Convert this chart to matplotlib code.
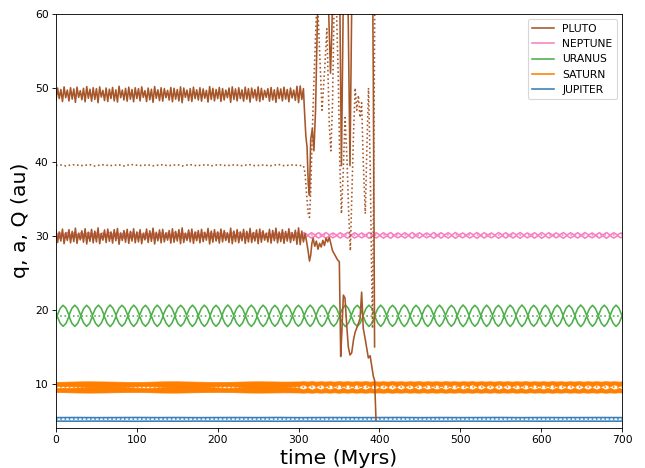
import numpy as np
import matplotlib
matplotlib.use("Agg")
import matplotlib.pyplot as plt
from matplotlib.lines import Line2D

# ---------------- data ----------------
planet_names = ["PLUTO", "NEPTUNE", "URANUS", "SATURN", "JUPITER"]

# Jupiter: semi-major axis and eccentricity samples (every 25 Myr)
jupiter_a = 5.20
jupiter_e_step = 25.0
jupiter_e = [0.046, 0.048, 0.045, 0.047, 0.049, 0.046, 0.048, 0.045, 0.047, 0.048,
             0.046, 0.049, 0.045, 0.047, 0.048, 0.046, 0.047, 0.049, 0.045, 0.048,
             0.046, 0.047, 0.049, 0.045, 0.048, 0.046, 0.047, 0.048, 0.046]

# Saturn: a, and the envelope (min / max) of its fast-oscillating eccentricity
saturn_a = 9.58
saturn_early_step = 10.0
saturn_e_hi_early = [0.072, 0.074, 0.077, 0.079, 0.080, 0.079, 0.078, 0.076, 0.074, 0.072,
                     0.071, 0.073, 0.076, 0.079, 0.080, 0.080, 0.078, 0.076, 0.074, 0.072,
                     0.071, 0.072, 0.074, 0.077, 0.079, 0.080, 0.079, 0.078, 0.076, 0.077,
                     0.078]
saturn_e_lo_early = [0.014, 0.012, 0.010, 0.007, 0.003, 0.000, 0.000, 0.000, 0.002, 0.006,
                     0.010, 0.012, 0.010, 0.006, 0.002, 0.000, 0.000, 0.000, 0.000, 0.004,
                     0.009, 0.012, 0.009, 0.004, 0.000, 0.000, 0.000, 0.000, 0.002, 0.006,
                     0.010]
saturn_late_start = 300.0
saturn_late_step = 5.5
saturn_e_hi_late = [0.077, 0.081, 0.077, 0.082, 0.076, 0.081, 0.077, 0.081, 0.076, 0.082,
                    0.077, 0.081, 0.076, 0.081, 0.077, 0.082, 0.076, 0.081, 0.077, 0.081,
                    0.076, 0.082, 0.077, 0.081, 0.076, 0.081, 0.077, 0.082, 0.076, 0.081,
                    0.077, 0.081, 0.076, 0.082, 0.077, 0.081, 0.076, 0.081, 0.077, 0.082,
                    0.076, 0.081, 0.077, 0.081, 0.076, 0.082, 0.077, 0.081, 0.076, 0.081,
                    0.077, 0.082, 0.076, 0.081, 0.077, 0.081, 0.076, 0.082, 0.077, 0.081,
                    0.076, 0.081, 0.077, 0.082, 0.076, 0.081, 0.077, 0.081, 0.076, 0.082,
                    0.077, 0.081, 0.076, 0.081]
saturn_e_lo_late = [0.010, 0.035, 0.009, 0.037, 0.011, 0.036, 0.008, 0.035, 0.010, 0.037,
                    0.009, 0.036, 0.011, 0.035, 0.010, 0.037, 0.008, 0.036, 0.010, 0.035,
                    0.011, 0.037, 0.009, 0.036, 0.010, 0.035, 0.008, 0.037, 0.010, 0.036,
                    0.011, 0.035, 0.009, 0.037, 0.010, 0.036, 0.008, 0.035, 0.011, 0.037,
                    0.010, 0.036, 0.009, 0.035, 0.010, 0.037, 0.011, 0.036, 0.008, 0.035,
                    0.010, 0.037, 0.009, 0.036, 0.011, 0.035, 0.010, 0.037, 0.008, 0.036,
                    0.010, 0.035, 0.011, 0.037, 0.009, 0.036, 0.010, 0.035, 0.008, 0.037,
                    0.010, 0.036, 0.011, 0.035]

# Uranus: a, and eccentricity sampled four times per secular cycle
uranus_a = 19.20
uranus_start = -2.14
uranus_step = 3.6375
uranus_e = [0.052,
    0.003, 0.052, 0.074, 0.053, 0.004, 0.053, 0.075, 0.052, 0.002, 0.051, 0.074, 0.053,
    0.004, 0.052, 0.075, 0.051, 0.003, 0.053, 0.076, 0.052, 0.005, 0.052, 0.074, 0.053,
    0.003, 0.051, 0.075, 0.052, 0.004, 0.053, 0.074, 0.051, 0.002, 0.052, 0.075, 0.053,
    0.004, 0.051, 0.076, 0.052, 0.003, 0.053, 0.074, 0.052, 0.005, 0.052, 0.075, 0.051,
    0.002, 0.051, 0.075, 0.053, 0.004, 0.053, 0.074, 0.052, 0.003, 0.052, 0.076, 0.053,
    0.004, 0.051, 0.074, 0.051, 0.002, 0.053, 0.075, 0.052, 0.005, 0.052, 0.075, 0.053,
    0.003, 0.051, 0.074, 0.052, 0.004, 0.053, 0.076, 0.051, 0.002, 0.052, 0.074, 0.053,
    0.004, 0.051, 0.075, 0.052, 0.003, 0.053, 0.075, 0.053, 0.005, 0.052, 0.074, 0.051,
    0.003, 0.051, 0.076, 0.052, 0.004, 0.053, 0.074, 0.053, 0.002, 0.052, 0.075, 0.052,
    0.004, 0.051, 0.075, 0.051, 0.003, 0.053, 0.074, 0.053, 0.005, 0.052, 0.076, 0.052,
    0.002, 0.051, 0.074, 0.053, 0.004, 0.053, 0.075, 0.052, 0.003, 0.052, 0.075, 0.051,
    0.004, 0.051, 0.074, 0.053, 0.002, 0.053, 0.076, 0.052, 0.005, 0.052, 0.074, 0.053,
    0.003, 0.051, 0.075, 0.052, 0.004, 0.053, 0.074, 0.051, 0.002, 0.052, 0.075, 0.053,
    0.004, 0.051, 0.076, 0.052, 0.003, 0.053, 0.074, 0.052, 0.005, 0.052, 0.075, 0.051,
    0.002, 0.051, 0.075, 0.053, 0.004, 0.053, 0.074, 0.052, 0.003, 0.052, 0.076, 0.053,
    0.004, 0.051, 0.074, 0.051, 0.002, 0.053, 0.075, 0.052, 0.005, 0.052, 0.075, 0.053,
    0.003, 0.051, 0.074, 0.052]

# Neptune: a, and eccentricity sampled twice per secular cycle
neptune_a = 30.07
neptune_step = 4.45
neptune_e = [0.002, 0.012, 0.001, 0.013, 0.002, 0.011, 0.001, 0.012, 0.002, 0.013,
             0.001, 0.012, 0.002, 0.011, 0.001, 0.013, 0.002, 0.012, 0.001, 0.012,
             0.002, 0.013, 0.001, 0.011, 0.002, 0.012, 0.001, 0.013, 0.002, 0.012,
             0.001, 0.011, 0.002, 0.013, 0.001, 0.012, 0.002, 0.012, 0.001, 0.013,
             0.002, 0.011, 0.001, 0.012, 0.002, 0.013, 0.001, 0.012, 0.002, 0.011,
             0.001, 0.013, 0.002, 0.012, 0.001, 0.012, 0.002, 0.013, 0.001, 0.011,
             0.002, 0.012, 0.001, 0.013, 0.002, 0.012, 0.001, 0.011, 0.002, 0.013,
             0.001, 0.012, 0.002, 0.012, 0.001, 0.013, 0.002, 0.011, 0.001, 0.012,
             0.002, 0.013, 0.001, 0.012, 0.002, 0.011, 0.001, 0.013, 0.002, 0.012,
             0.001, 0.012, 0.002, 0.013, 0.001, 0.011, 0.002, 0.012, 0.001, 0.013,
             0.002, 0.012, 0.001, 0.011, 0.002, 0.013, 0.001, 0.012, 0.002, 0.012,
             0.001, 0.013, 0.002, 0.011, 0.001, 0.012, 0.002, 0.013, 0.001, 0.012,
             0.002, 0.011, 0.001, 0.013, 0.002, 0.012, 0.001, 0.012, 0.002, 0.013,
             0.001, 0.011, 0.002, 0.012, 0.001, 0.013, 0.002, 0.012, 0.001, 0.011,
             0.002, 0.013, 0.001, 0.012, 0.002, 0.012, 0.001, 0.013, 0.002, 0.011,
             0.001, 0.012, 0.002, 0.013, 0.001, 0.012, 0.002, 0.011, 0.001, 0.013,
             0.002]

# Pluto, stable phase (0-306 Myr): eccentricity every 2 Myr, a every 6 Myr
pluto_a_mean = 39.55
pluto_e_step = 2.0
pluto_e_early = [
    0.222, 0.264, 0.228, 0.259, 0.218, 0.268, 0.231, 0.257, 0.220, 0.265,
    0.226, 0.261, 0.215, 0.267, 0.232, 0.255, 0.224, 0.263, 0.217, 0.269,
    0.229, 0.260, 0.219, 0.265, 0.225, 0.262, 0.214, 0.268, 0.233, 0.256,
    0.221, 0.264, 0.218, 0.260, 0.228, 0.266, 0.220, 0.258, 0.216, 0.270,
    0.231, 0.257, 0.223, 0.263, 0.219, 0.267, 0.226, 0.259, 0.217, 0.265,
    0.228, 0.262, 0.220, 0.268, 0.232, 0.255, 0.218, 0.264, 0.224, 0.260,
    0.215, 0.269, 0.229, 0.258, 0.221, 0.265, 0.219, 0.262, 0.231, 0.256,
    0.223, 0.266, 0.217, 0.263, 0.226, 0.259, 0.220, 0.268, 0.214, 0.264,
    0.232, 0.257, 0.221, 0.262, 0.218, 0.267, 0.228, 0.258, 0.223, 0.265,
    0.219, 0.261, 0.229, 0.256, 0.216, 0.269, 0.225, 0.263, 0.220, 0.259,
    0.228, 0.266, 0.218, 0.262, 0.223, 0.257, 0.231, 0.264, 0.215, 0.268,
    0.225, 0.261, 0.220, 0.265, 0.228, 0.258, 0.219, 0.267, 0.226, 0.262,
    0.216, 0.264, 0.230, 0.259, 0.221, 0.268, 0.218, 0.263, 0.224, 0.256,
    0.232, 0.262, 0.219, 0.266, 0.223, 0.258, 0.215, 0.265, 0.228, 0.261,
    0.220, 0.267, 0.226, 0.259, 0.217, 0.264, 0.230, 0.257, 0.222, 0.270,
    0.214, 0.271, 0.225, 0.262]
pluto_a_step = 6.0
pluto_a_early = [
    39.52, 39.60, 39.47, 39.58, 39.64, 39.50, 39.55, 39.62, 39.45, 39.57,
    39.63, 39.49, 39.56, 39.61, 39.46, 39.59, 39.65, 39.51, 39.54, 39.60,
    39.48, 39.57, 39.62, 39.50, 39.55, 39.63, 39.46, 39.58, 39.61, 39.49,
    39.56, 39.64, 39.47, 39.59, 39.60, 39.51, 39.55, 39.62, 39.48, 39.57,
    39.63, 39.50, 39.54, 39.61, 39.46, 39.58, 39.64, 39.49, 39.56, 39.60,
    39.52, 39.50]

# Pluto, unstable phase until ejection
pluto_t_q_late = [308, 310, 312, 313.5, 315, 316.5, 318, 320, 322,
                  324, 326, 328, 330, 332, 334, 336, 338, 340, 342,
                  344, 346, 348, 350.4, 352.1, 353.5, 355.4, 357.4, 359.5, 361.5,
                  363.6, 365.7, 368, 370, 371.8, 374, 376, 378, 380, 382.2,
                  384, 386.3, 388.5, 390.4, 392.5, 394, 395.8]
pluto_q_late = [30.3, 29.2, 27.8, 26.6, 27.4, 29.0, 29.7, 28.6, 29.3,
                28.2, 29.0, 28.5, 29.4, 28.7, 29.7, 29.2, 29.8, 28.9, 28.0,
                27.6, 27.2, 26.8, 26.5, 13.7, 17.0, 22.0, 21.6, 18.0, 15.0,
                13.9, 14.2, 16.0, 17.0, 17.5, 18.2, 18.8, 22.4, 17.5, 16.2,
                15.0, 13.5, 13.8, 12.5, 11.0, 10.5, 5.1]
pluto_t_a_late = [308, 310, 312, 313.5, 315, 317, 319, 321, 323,
                  326, 329, 332, 335, 338, 340, 342, 344, 346, 349,
                  351, 353, 355, 357.5, 360, 362, 364, 366, 368, 370,
                  372, 374, 376, 378, 380, 382.5, 384.5, 386.5, 388.5, 390.5,
                  391.5, 393, 394.5]
pluto_a_late = [38.5, 35.5, 33.0, 32.5, 36.0, 44.0, 51.0, 57.0, 63.0,
                55.0, 47.0, 52.0, 58.0, 45.0, 41.5, 48.0, 62.0, 64.0, 52.0,
                40.0, 33.0, 38.0, 46.0, 40.0, 33.0, 28.0, 36.0, 44.0, 50.0,
                47.0, 49.0, 46.0, 48.0, 40.0, 33.0, 42.0, 50.0, 40.0, 24.0,
                17.5, 40.0, 66.0]
pluto_t_Q_late = [307.5, 309, 310.5, 312, 313.5, 315, 317, 319, 321,
                  323, 325, 328, 331, 334, 337, 339.5, 341, 343, 346,
                  349, 351, 353, 355.5, 358, 361, 363.6, 366, 368, 372,
                  376, 380, 384, 388, 391, 392.5, 394]
pluto_Q_late = [46.5, 43.5, 42.0, 37.0, 35.5, 43.0, 44.5, 41.5, 47.0,
                58.0, 68.0, 72.0, 64.0, 70.0, 61.0, 52.0, 57.0, 66.0, 74.0,
                66.0, 62.0, 39.5, 64.0, 70.0, 63.0, 39.5, 64.0, 72.0, 75.0,
                70.0, 78.0, 72.0, 69.0, 74.0, 50.0, 15.0]

# ---------------- styles ----------------
colors = {"PLUTO": "#a65628", "NEPTUNE": "#f781bf", "URANUS": "#4daf4a",
          "SATURN": "#ff7f00", "JUPITER": "#377eb8"}
LW = 1.5
T_END = 700

DPI = 77
fig = plt.figure(figsize=(645 / DPI, 468 / DPI), dpi=DPI)
ax = fig.add_axes([56 / 645, 1 - 427.5 / 468, (622 - 56) / 645, (427.5 - 14) / 468])

# Jupiter
c = colors["JUPITER"]
tj = np.arange(len(jupiter_e)) * jupiter_e_step
ej = np.array(jupiter_e)
ax.plot(tj, jupiter_a * (1 - ej), color=c, lw=LW)
ax.plot(tj, jupiter_a * (1 + ej), color=c, lw=LW)
ax.plot([0, T_END], [jupiter_a, jupiter_a], color=c, lw=LW, ls=":")

# Saturn (fast oscillation fills a band)
c = colors["SATURN"]
ts1 = np.arange(len(saturn_e_hi_early)) * saturn_early_step
ts2 = saturn_late_start + np.arange(len(saturn_e_hi_late)) * saturn_late_step
for ts, ehi, elo in [(ts1, saturn_e_hi_early, saturn_e_lo_early),
                     (ts2, saturn_e_hi_late, saturn_e_lo_late)]:
    ehi = np.array(ehi)
    elo = np.array(elo)
    ax.fill_between(ts, saturn_a * (1 - ehi), saturn_a * (1 - elo), color=c, lw=0.6)
    ax.fill_between(ts, saturn_a * (1 + elo), saturn_a * (1 + ehi), color=c, lw=0.6)
ax.plot([0, T_END], [saturn_a, saturn_a], color=c, lw=LW, ls=":")

# Uranus
c = colors["URANUS"]
tu = uranus_start + np.arange(len(uranus_e)) * uranus_step
eu = np.array(uranus_e)
ax.plot(tu, uranus_a * (1 - eu), color=c, lw=LW)
ax.plot(tu, uranus_a * (1 + eu), color=c, lw=LW)
ax.plot([0, T_END], [uranus_a, uranus_a], color=c, lw=LW, ls=":")

# Neptune
c = colors["NEPTUNE"]
tn = np.arange(len(neptune_e)) * neptune_step
en = np.array(neptune_e)
ax.plot(tn, neptune_a * (1 - en), color=c, lw=LW)
ax.plot(tn, neptune_a * (1 + en), color=c, lw=LW)
ax.plot([0, T_END], [neptune_a, neptune_a], color=c, lw=LW, ls=":")

# Pluto
c = colors["PLUTO"]
tp = np.arange(len(pluto_e_early)) * pluto_e_step
ep = np.array(pluto_e_early)
q_all_t = np.concatenate([tp, pluto_t_q_late])
q_all = np.concatenate([pluto_a_mean * (1 - ep), pluto_q_late])
Q_all_t = np.concatenate([tp, pluto_t_Q_late])
Q_all = np.concatenate([pluto_a_mean * (1 + ep), pluto_Q_late])
ta = np.arange(len(pluto_a_early)) * pluto_a_step
a_all_t = np.concatenate([ta, pluto_t_a_late])
a_all = np.concatenate([pluto_a_early, pluto_a_late])
ax.plot(q_all_t, q_all, color=c, lw=LW)
ax.plot(Q_all_t, Q_all, color=c, lw=LW)
ax.plot(a_all_t, a_all, color=c, lw=LW, ls=":")

ax.set_xlim(0, 700)
ax.set_ylim(4.1, 60)
ax.set_xlabel("time (Myrs)", fontsize=19)
ax.set_ylabel("q, a, Q (au)", fontsize=19)

handles = [Line2D([], [], color=colors[n], lw=LW) for n in planet_names]
ax.legend(handles, planet_names, loc="upper right")

fig.savefig("out.png", dpi=DPI)
